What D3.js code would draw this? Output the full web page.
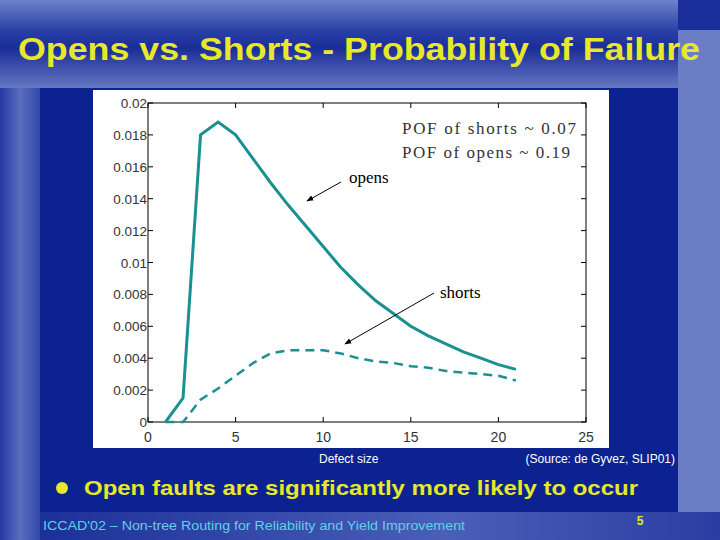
<!DOCTYPE html>
<html><head><meta charset="utf-8">
<script src="https://cdn.jsdelivr.net/npm/d3@7"></script>
<style>body{margin:0;background:#0c2290}svg{display:block}</style>
</head><body>
<svg id="s" width="720" height="540"></svg>
<script>
const defectSize = [1,2,3,4,5,6,7,8,9,10,11,12,13,14,15,16,17,18,19,20,21];
const opens  = [0,0.0015,0.018,0.0188,0.018,0.0165,0.015,0.0136,0.0123,0.011,0.0097,0.0086,0.0076,0.0068,0.006,0.0054,0.0049,0.0044,0.004,0.0036,0.0033];
const shorts = [0,0,0.0014,0.0021,0.0029,0.0037,0.0043,0.0045,0.0045,0.0045,0.0043,0.004,0.0038,0.0037,0.0035,0.0034,0.0032,0.0031,0.003,0.0029,0.0026];
const xTicks = [0,5,10,15,20,25];
const yTicks = [0,0.002,0.004,0.006,0.008,0.01,0.012,0.014,0.016,0.018,0.02];

const svg = d3.select("#s");
const defs = svg.append("defs");
const g1 = defs.append("linearGradient").attr("id","title").attr("x1",0).attr("y1",0).attr("x2",0).attr("y2",1);
[[0,"#6d82c9"],[0.35,"#2a3fa6"],[0.55,"#1a2d98"],[1,"#6578c2"]].forEach(d=>g1.append("stop").attr("offset",d[0]).attr("stop-color",d[1]));
const g2 = defs.append("linearGradient").attr("id","left").attr("x1",0).attr("y1",0).attr("x2",1).attr("y2",0);
[[0,"#2438a2"],[0.5,"#5a6fc0"],[1,"#3348aa"]].forEach(d=>g2.append("stop").attr("offset",d[0]).attr("stop-color",d[1]));
const g3 = defs.append("linearGradient").attr("id","foot").attr("x1",0).attr("y1",0).attr("x2",1).attr("y2",0);
[[0,"#1c3098"],[0.6,"#4a5fb8"],[1,"#2a3da2"]].forEach(d=>g3.append("stop").attr("offset",d[0]).attr("stop-color",d[1]));

// slide background
svg.append("rect").attr("width",720).attr("height",540).attr("fill","#0c2290");
svg.append("rect").attr("x",0).attr("y",88).attr("width",40).attr("height",452).attr("fill","url(#left)");
svg.append("rect").attr("x",678).attr("y",0).attr("width",42).attr("height",512).attr("fill","#6b7dc4");
svg.append("rect").attr("x",678).attr("y",0).attr("width",42).attr("height",30).attr("fill","#1a2e9c");
svg.append("rect").attr("x",0).attr("y",0).attr("width",678).attr("height",88).attr("fill","url(#title)");
svg.append("rect").attr("x",40).attr("y",512).attr("width",680).attr("height",28).attr("fill","url(#foot)");

const sans = "Liberation Sans, Arial, sans-serif";
svg.append("text").attr("x",18).attr("y",60)
  .attr("font-family",sans).attr("font-weight","bold").attr("font-size",31).attr("fill","#e8e82a")
  .attr("textLength",682).attr("lengthAdjust","spacingAndGlyphs")
  .text("Opens vs. Shorts - Probability of Failure");

// chart panel
svg.append("rect").attr("x",93).attr("y",90).attr("width",516).attr("height",358).attr("fill","#fff");

const x = d3.scaleLinear().domain([0,25]).range([148,586]);
const y = d3.scaleLinear().domain([0,0.02]).range([422,103]);

const ax = svg.append("g").attr("font-family",sans);
ax.append("rect").attr("x",148).attr("y",103).attr("width",438).attr("height",319)
  .attr("fill","none").attr("stroke","#000").attr("stroke-width",1);
ax.selectAll(".xt").data(xTicks).join("g").each(function(d){
  const s=d3.select(this);
  s.append("line").attr("x1",x(d)).attr("x2",x(d)).attr("y1",422).attr("y2",417).attr("stroke","#000");
  s.append("line").attr("x1",x(d)).attr("x2",x(d)).attr("y1",103).attr("y2",108).attr("stroke","#000");
  s.append("text").attr("x",x(d)).attr("y",442).attr("text-anchor","middle").attr("font-size",14).attr("fill","#333").text(d);
});
ax.selectAll(".yt").data(yTicks).join("g").each(function(d){
  const s=d3.select(this);
  s.append("line").attr("x1",148).attr("x2",153).attr("y1",y(d)).attr("y2",y(d)).attr("stroke","#000");
  s.append("line").attr("x1",586).attr("x2",581).attr("y1",y(d)).attr("y2",y(d)).attr("stroke","#000");
  s.append("text").attr("x",147).attr("y",y(d)+5).attr("text-anchor","end").attr("font-size",13.5).attr("fill","#333").text(d3.format("")(+d.toFixed(3)));
});

const line = d3.line().x((d,i)=>x(defectSize[i])).y(d=>y(d));
svg.append("path").attr("d",line(opens)).attr("fill","none").attr("stroke","#1a9090").attr("stroke-width",3);
svg.append("path").attr("d",line(shorts)).attr("fill","none").attr("stroke","#1a9090").attr("stroke-width",2.5).attr("stroke-dasharray","9,6");

// annotations
const serif = "Liberation Serif, Times New Roman, serif";
svg.append("text").attr("x",402).attr("y",134).attr("font-family",serif).attr("font-size",17).attr("fill","#333").attr("textLength",174).attr("lengthAdjust","spacing").text("POF of  shorts  ~ 0.07");
svg.append("text").attr("x",402).attr("y",158).attr("font-family",serif).attr("font-size",17).attr("fill","#333").attr("textLength",168).attr("lengthAdjust","spacing").text("POF of opens  ~ 0.19");
svg.append("text").attr("x",349).attr("y",183).attr("font-family",serif).attr("font-size",17).attr("fill","#000").text("opens");
svg.append("text").attr("x",440).attr("y",298).attr("font-family",serif).attr("font-size",17).attr("fill","#000").text("shorts");
defs.append("marker").attr("id","ah").attr("viewBox","0 0 10 10").attr("refX",9).attr("refY",5)
  .attr("markerWidth",7).attr("markerHeight",7).attr("orient","auto")
  .append("path").attr("d","M0,1L10,5L0,9z").attr("fill","#000");
svg.append("line").attr("x1",341).attr("y1",182).attr("x2",307).attr("y2",201).attr("stroke","#000").attr("marker-end","url(#ah)");
svg.append("line").attr("x1",434).attr("y1",293).attr("x2",345).attr("y2",344).attr("stroke","#000").attr("marker-end","url(#ah)");

svg.append("text").attr("x",319).attr("y",463).attr("font-family",sans).attr("font-size",12).attr("fill","#fff").text("Defect size");
svg.append("text").attr("x",675).attr("y",463).attr("text-anchor","end").attr("font-family",sans).attr("font-size",12).attr("fill","#fff").text("(Source: de Gyvez, SLIP01)");
svg.append("circle").attr("cx",62).attr("cy",488).attr("r",6).attr("fill","#e8e82a");
svg.append("text").attr("x",84).attr("y",495).attr("font-family",sans).attr("font-weight","bold").attr("font-size",21).attr("fill","#e8e82a")
  .attr("textLength",554).attr("lengthAdjust","spacingAndGlyphs").text("Open faults are significantly more likely to occur");
svg.append("text").attr("x",43).attr("y",530).attr("font-family",sans).attr("font-size",12).attr("fill","#5fd0e8")
  .attr("textLength",422).attr("lengthAdjust","spacingAndGlyphs").text("ICCAD'02  – Non-tree Routing for Reliability and Yield Improvement");
svg.append("text").attr("x",640).attr("y",525).attr("text-anchor","middle").attr("font-family",sans).attr("font-weight","bold").attr("font-size",12).attr("fill","#e8e82a").text("5");
</script>
</body></html>
